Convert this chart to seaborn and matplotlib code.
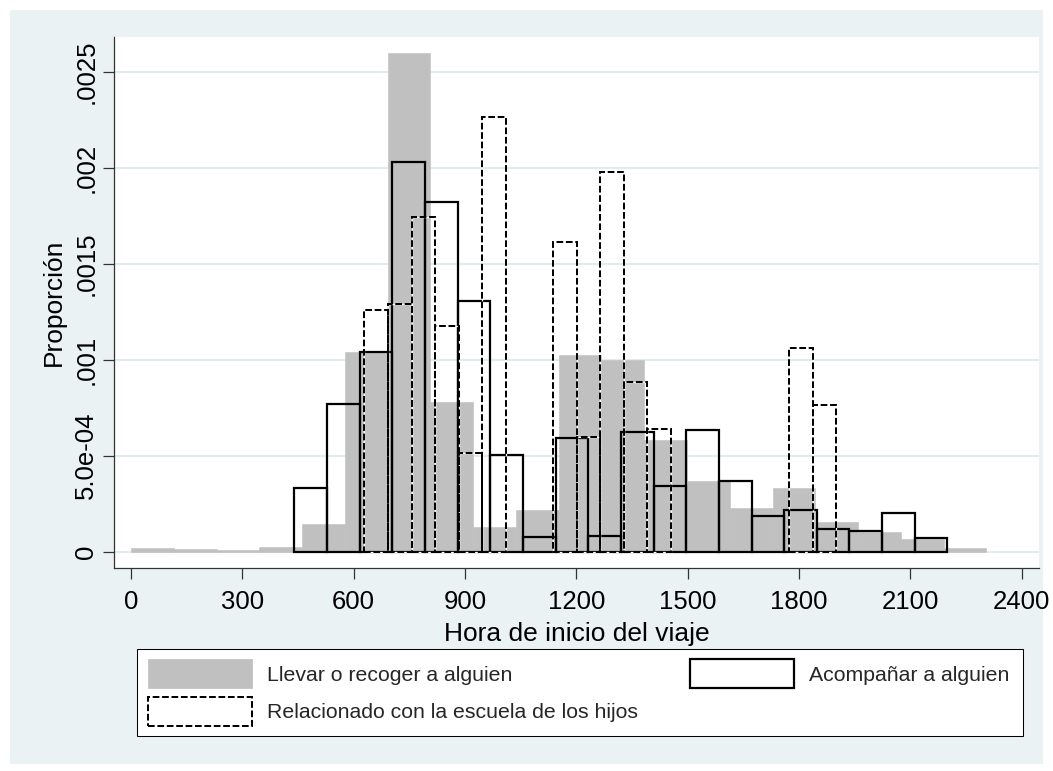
import numpy as np
import pandas as pd
import matplotlib
matplotlib.use("Agg")
import matplotlib.pyplot as plt
from matplotlib.patches import Patch, Rectangle
import seaborn as sns

# ---- data: density of trip start time (HHMM) by purpose, 20 bins each ----
n_bins = 20
llevar_range = (0, 2305)       # first/last bin edge
acompanar_range = (440, 2200)
escuela_range = (629, 1900)

llevar = [0.000019, 0.000013, 0.000011, 0.000026, 0.000142, 0.00104, 0.0026,
          0.00078, 0.000128, 0.000215, 0.001024, 0.000998, 0.000584, 0.000366,
          0.000229, 0.00033, 0.000153, 0.000101, 0.000066, 0.000018]
acompanar = [0.00033, 0.000768, 0.001042, 0.00203, 0.00182, 0.001304, 0.000502,
             0.000075, 0.000593, 0.000084, 0.000622, 0.000342, 0.000636, 0.000366,
             0.000188, 0.000217, 0.000117, 0.000109, 0.000203, 0.00007]
escuela = [0.00126, 0.00129, 0.001743, 0.001176, 0.000516, 0.002263, 0.0, 0.0,
           0.001612, 0.000599, 0.00198, 0.000882, 0.00064, 0.0, 0.0, 0.0, 0.0,
           0.0, 0.001063, 0.000764]

series_labels = ["Llevar o recoger a alguien", "Acompañar a alguien",
                 "Relacionado con la escuela de los hijos"]
x_ticks = [0, 300, 600, 900, 1200, 1500, 1800, 2100, 2400]
y_ticks = [0, 0.0005, 0.001, 0.0015, 0.002, 0.0025]
y_tick_labels = ["0", "5.0e-04", ".001", ".0015", ".002", ".0025"]
x_title = "Hora de inicio del viaje"
y_title = "Proporción"

# ---- style ----
BG = "#EAF2F3"
GRID = "#E2EBED"
GRAY = "#C0C0C0"
AXCOL = "#333333"
DASH = (0, (3.35, 1.35))

sns.set_style("white")
plt.rcParams["font.family"] = ["Liberation Sans", "DejaVu Sans"]


def binned(values, rng):
    edges = np.linspace(rng[0], rng[1], n_bins + 1)
    centers = (edges[:-1] + edges[1:]) / 2
    return pd.DataFrame({"hora": centers, "prop": values}), edges.tolist()


df_llevar, e_llevar = binned(llevar, llevar_range)
df_acomp, e_acomp = binned(acompanar, acompanar_range)
df_esc, e_esc = binned(escuela, escuela_range)

W, H = 1053, 771
fig = plt.figure(figsize=(W / 100, H / 100), dpi=100, facecolor="white")


def fig_rect(x0, y0, x1, y1, **kw):
    """Rectangle given in pixel coordinates from the top-left corner."""
    r = Rectangle((x0 / W, 1 - y1 / H), (x1 - x0) / W, (y1 - y0) / H,
                  transform=fig.transFigure, **kw)
    fig.patches.append(r)
    return r


fig_rect(10, 10, 1043, 764, facecolor=BG, edgecolor="none", zorder=-10)

ax_l, ax_r, ax_t, ax_b = 114.3, 1039.3, 37.0, 568.3
ax = fig.add_axes([ax_l / W, 1 - ax_b / H, (ax_r - ax_l) / W, (ax_b - ax_t) / H])
ax.set_facecolor("white")

# gray filled bars
sns.histplot(data=df_llevar, x="hora", weights="prop", bins=e_llevar,
             stat="count", element="bars", fill=True, color=GRAY, alpha=1,
             edgecolor=GRAY, linewidth=0.4, ax=ax, zorder=2)
# solid outlined bars
sns.histplot(data=df_acomp, x="hora", weights="prop", bins=e_acomp,
             stat="count", element="bars", fill=False, color="black", alpha=1,
             linewidth=1.6, ax=ax, zorder=3)
# dashed outlined bars: thin white underlay, then black dashes
for col, lw, ls, z in [("white", 0.9, "-", 4), ("black", 1.44, DASH, 5)]:
    sns.histplot(data=df_esc, x="hora", weights="prop", bins=e_esc,
                 stat="count", element="bars", fill=False, color=col, alpha=1,
                 linewidth=lw, linestyle=ls, ax=ax, zorder=z)

# empty bins are not outlined
for p in list(ax.patches):
    if p.get_height() == 0:
        p.remove()

ax.set_xlim((ax_l - 131.0) / 0.37112, (ax_r - 131.0) / 0.37112)
ax.set_ylim(-(ax_b - 551.7) / 192000, (551.7 - ax_t) / 192000)
ax.set_xticks(x_ticks)
ax.set_xticklabels([str(t) for t in x_ticks])
ax.set_yticks(y_ticks)
ax.set_yticklabels(y_tick_labels, rotation=90, va="center")

ax.yaxis.grid(True, color=GRID, linewidth=1.4)
ax.xaxis.grid(False)
ax.set_axisbelow(True)

for s in ["top", "right"]:
    ax.spines[s].set_visible(False)
for s in ["left", "bottom"]:
    ax.spines[s].set_color(AXCOL)
    ax.spines[s].set_linewidth(0.9)

ax.tick_params(axis="both", which="major", length=7.9, width=0.9, color=AXCOL,
               labelsize=18.5, labelcolor="black", direction="out")
ax.tick_params(axis="x", pad=8, bottom=True)
ax.tick_params(axis="y", pad=3.6, left=True)

ax_h = ax_b - ax_t
ax.set_xlabel(x_title, fontsize=19, color="black")
ax.xaxis.label.set_va("baseline")
ax.xaxis.set_label_coords(0.5, (ax_b - 640.5) / ax_h)
ax.set_ylabel(y_title, fontsize=19, color="black")
ax.yaxis.set_label_coords((65.5 - ax_l) / (ax_r - ax_l), 0.5)

# legend: white box with a thin black border, two columns
fig_rect(137.3, 649.3, 1023, 736, facecolor="white", edgecolor="black",
         linewidth=0.75, zorder=5)
handles = [
    Patch(facecolor=GRAY, edgecolor=GRAY, linewidth=0.5),
    Patch(facecolor="white", edgecolor="black", linewidth=1.44, linestyle=DASH),
    Patch(facecolor="white", edgecolor="black", linewidth=1.6),
]
labels = [series_labels[0], series_labels[2], series_labels[1]]
leg = fig.legend(handles, labels, loc="upper left",
                 bbox_to_anchor=(148.3 / W, 1 - 659.3 / H), ncol=2,
                 frameon=False, fontsize=15.3,
                 handlelength=4.9, handleheight=1.7226, handletextpad=0.7,
                 columnspacing=2.45, borderpad=0, labelspacing=0.41,
                 borderaxespad=0)
leg.set_zorder(6)

fig.savefig("out.png", dpi=100, facecolor=fig.get_facecolor())
